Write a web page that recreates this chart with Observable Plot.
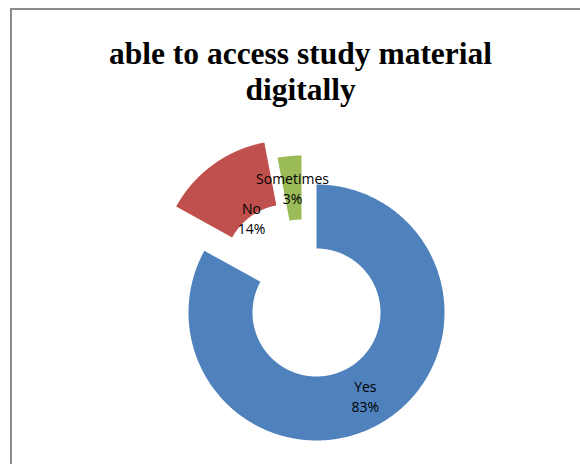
<!DOCTYPE html>
<html>
<head>
<meta charset="utf-8">
<script src="https://cdn.jsdelivr.net/npm/d3@7"></script>
<script src="https://cdn.jsdelivr.net/npm/@observablehq/plot@0.6"></script>
<style>
  html, body { margin: 0; padding: 0; background: #fff; }
  #wrap { position: relative; width: 580px; height: 464px; overflow: hidden; }
  #border { position: absolute; left: 10px; top: 8px; width: 640px; height: 540px; border: 2px solid #8c8c8c; box-sizing: border-box; }
  #chart { position: absolute; left: 0; top: 0; }
</style>
</head>
<body>
<div id="wrap"><div id="border"></div><div id="chart"></div></div>
<script>
// ---- data ----
const title = "able to access study material\ndigitally";
const categories = ["Yes", "No", "Sometimes"];
const values = [83, 14, 3];
const percentLabels = ["83%", "14%", "3%"];
const colors = ["#4F81BD", "#C0504D", "#9BBB59"];

// ---- style / layout constants ----
const W = 580, H = 464;
const cx = 316, cy = 312, Rpx = 128;  // pie centre & outer radius in pixels
const inner = 0.5;                     // hole size as fraction of radius
const explodeDist = {Yes: 0, No: 0.41, Sometimes: 0.255};
const explodeDir = {Yes: 0, No: 327.5, Sometimes: 332.7};   // degrees clockwise from top
const labelRadius = {Yes: 0.75, No: 0.49, Sometimes: 0.75};

const total = d3.sum(values);
const rad = d => d * Math.PI / 180;
const slices = [];
let acc = 0;
categories.forEach((c, i) => {
  const a0 = acc / total * 2 * Math.PI;
  acc += values[i];
  const a1 = acc / total * 2 * Math.PI;
  const ex = Math.sin(rad(explodeDir[c])) * explodeDist[c];
  const ey = Math.cos(rad(explodeDir[c])) * explodeDist[c];
  slices.push({key: c, a0, a1, ex, ey, pct: percentLabels[i]});
});

const pts = [];
for (const s of slices) {
  const n = Math.max(4, Math.ceil((s.a1 - s.a0) / 0.01));
  for (let k = 0; k <= n; k++) {
    const a = s.a0 + (s.a1 - s.a0) * k / n;
    pts.push({key: s.key, x: Math.sin(a) + s.ex, y: Math.cos(a) + s.ey});
  }
  for (let k = n; k >= 0; k--) {
    const a = s.a0 + (s.a1 - s.a0) * k / n;
    pts.push({key: s.key, x: Math.sin(a) * inner + s.ex, y: Math.cos(a) * inner + s.ey});
  }
}
const labels = slices.map(s => {
  const m = (s.a0 + s.a1) / 2, r = labelRadius[s.key];
  return {text: s.key + "\n" + s.pct, x: Math.sin(m) * r + s.ex, y: Math.cos(m) * r + s.ey};
});

const chart = Plot.plot({
  width: W, height: H,
  margin: 0,
  x: {domain: [-cx / Rpx, (W - cx) / Rpx], axis: null},
  y: {domain: [-(H - cy) / Rpx, cy / Rpx], axis: null},
  color: {domain: categories, range: colors},
  style: {background: "transparent"},
  marks: [
    Plot.line(pts, {x: "x", y: "y", z: "key", fill: "key", stroke: null, curve: "linear-closed"}),
    Plot.text(labels, {x: "x", y: "y", text: "text", fontSize: 14, fontFamily: "Open Sans", fill: "#000", lineHeight: 1.43}),
    Plot.text([title], {frameAnchor: "top", dx: 10, dy: 38, text: d => d, fontSize: 31.5, fontWeight: "bold",
      fontFamily: "Liberation Serif", fill: "#000", lineHeight: 1.14, lineAnchor: "top"})
  ]
});
document.getElementById("chart").appendChild(chart);
</script>
</body>
</html>
